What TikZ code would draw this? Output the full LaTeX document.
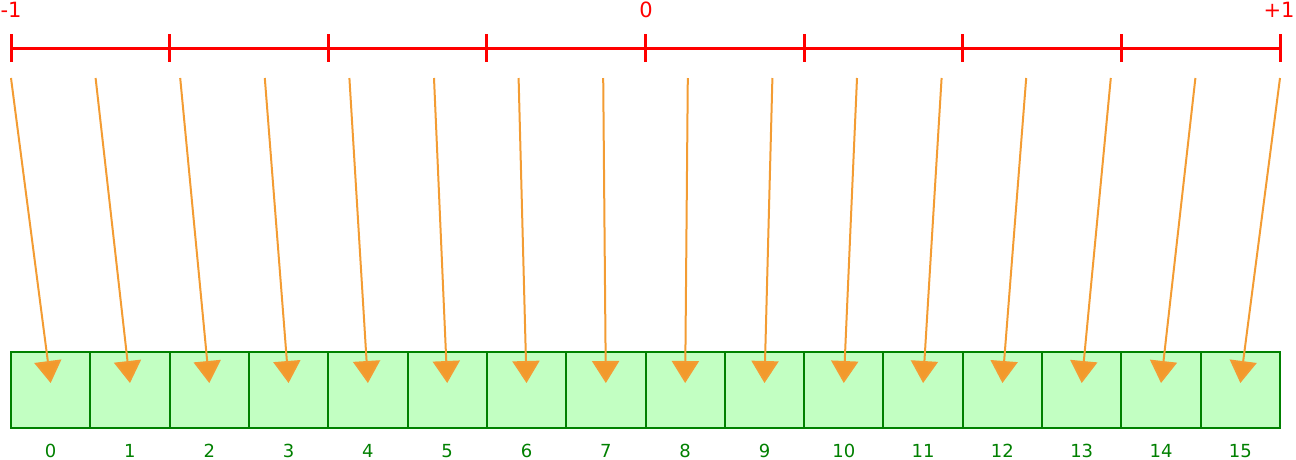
\documentclass[tikz,border=0pt]{standalone}
\usepackage{fontspec}
\setmainfont{DejaVu Sans}
\usetikzlibrary{arrows.meta,backgrounds}

\definecolor{scalered}{RGB}{255,0,0}
\definecolor{cellgreen}{RGB}{0,128,0}
\definecolor{cellfill}{RGB}{194,255,194}
\definecolor{arrorange}{RGB}{243,156,51}
\definecolor{headorange}{RGB}{242,154,44}

\tikzset{
	ruler/.style={draw=scalered,line width=3pt},
	scalelab/.style={text=scalered,font=\fontsize{21}{21}\selectfont,inner sep=0pt},
	idx/.style={text=cellgreen,font=\fontsize{18}{18}\selectfont,inner sep=0pt,
		text height=13pt,text depth=0pt,anchor=center,label distance=22.5pt},
	cell/.style={shape=rectangle,draw=cellgreen,line width=2pt,
		minimum width=79.3125pt,minimum height=76pt,inner sep=0pt,outer sep=0pt,
		label={[idx]below:#1}},
	arr/.style={draw=arrorange,line width=2pt,
		-{Triangle[length=22pt,width=27pt,fill=headorange]}}
}

\begin{document}
\begin{tikzpicture}[x=1pt,y=-1pt]
	\useasboundingbox (0,0) rectangle (1296,459);

	% scale from -1 to +1
	\node[scalelab] (m1) at (11,10) {-1};
	\node[scalelab] (z0) at (646,10) {0};
	\node[scalelab] (p1) at (1279,10) {+1};
	\draw[ruler] (11,48) -- (1280,48);
	\draw[ruler] (11,34) -- (11,62) (169.625,34) -- (169.625,62)
		(328.25,34) -- (328.25,62) (486.875,34) -- (486.875,62)
		(645.5,34) -- (645.5,62) (804.125,34) -- (804.125,62)
		(962.75,34) -- (962.75,62) (1121.375,34) -- (1121.375,62)
		(1280,34) -- (1280,62);

	% cells
	\node[cell=0] (b0) at (50.66,390) {};
	\node[cell=1] (b1) at (129.97,390) {};
	\node[cell=2] (b2) at (209.28,390) {};
	\node[cell=3] (b3) at (288.59,390) {};
	\node[cell=4] (b4) at (367.91,390) {};
	\node[cell=5] (b5) at (447.22,390) {};
	\node[cell=6] (b6) at (526.53,390) {};
	\node[cell=7] (b7) at (605.84,390) {};
	\node[cell=8] (b8) at (685.16,390) {};
	\node[cell=9] (b9) at (764.47,390) {};
	\node[cell=10] (b10) at (843.78,390) {};
	\node[cell=11] (b11) at (923.09,390) {};
	\node[cell=12] (b12) at (1002.41,390) {};
	\node[cell=13] (b13) at (1081.72,390) {};
	\node[cell=14] (b14) at (1161.03,390) {};
	\node[cell=15] (b15) at (1240.34,390) {};
	\begin{scope}[on background layer]
		\fill[cellfill] (b0.north west) rectangle (b15.south east);
	\end{scope}

	% sample points
	\coordinate (s0) at (11,78);
	\coordinate (s1) at (95.6,78);
	\coordinate (s2) at (180.2,78);
	\coordinate (s3) at (264.8,78);
	\coordinate (s4) at (349.4,78);
	\coordinate (s5) at (434,78);
	\coordinate (s6) at (518.6,78);
	\coordinate (s7) at (603.2,78);
	\coordinate (s8) at (687.8,78);
	\coordinate (s9) at (772.4,78);
	\coordinate (s10) at (857,78);
	\coordinate (s11) at (941.6,78);
	\coordinate (s12) at (1026.2,78);
	\coordinate (s13) at (1110.8,78);
	\coordinate (s14) at (1195.4,78);
	\coordinate (s15) at (1280,78);

	\path (s0) edge [arr] ([yshift=7pt]b0.center);
	\path (s1) edge [arr] ([yshift=7pt]b1.center);
	\path (s2) edge [arr] ([yshift=7pt]b2.center);
	\path (s3) edge [arr] ([yshift=7pt]b3.center);
	\path (s4) edge [arr] ([yshift=7pt]b4.center);
	\path (s5) edge [arr] ([yshift=7pt]b5.center);
	\path (s6) edge [arr] ([yshift=7pt]b6.center);
	\path (s7) edge [arr] ([yshift=7pt]b7.center);
	\path (s8) edge [arr] ([yshift=7pt]b8.center);
	\path (s9) edge [arr] ([yshift=7pt]b9.center);
	\path (s10) edge [arr] ([yshift=7pt]b10.center);
	\path (s11) edge [arr] ([yshift=7pt]b11.center);
	\path (s12) edge [arr] ([yshift=7pt]b12.center);
	\path (s13) edge [arr] ([yshift=7pt]b13.center);
	\path (s14) edge [arr] ([yshift=7pt]b14.center);
	\path (s15) edge [arr] ([yshift=7pt]b15.center);
\end{tikzpicture}
\end{document}
